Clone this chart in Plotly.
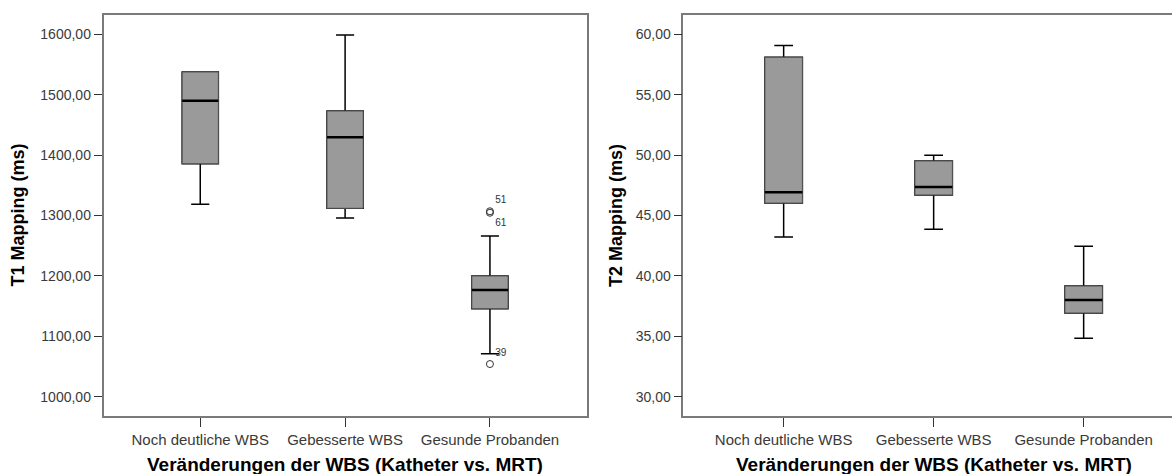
import plotly.graph_objects as go

# Gruppen (Veränderungen der WBS, Katheter vs. MRT)
categories = ["Noch deutliche WBS", "Gebesserte WBS", "Gesunde Probanden"]

# T1 Mapping (ms): Boxplot-Kennwerte je Gruppe
t1_lower = [1318.5, 1296.0, 1071.0]
t1_q1 = [1385.8, 1312.0, 1145.7]
t1_median = [1490.0, 1429.5, 1176.7]
t1_q3 = [1537.6, 1473.0, 1199.8]
t1_upper = [1537.6, 1599.0, 1266.0]

# T1 Ausreißer (Fallnummern)
t1_out_group = [2, 2, 2]
t1_out_value = [1307.0, 1304.5, 1054.0]
t1_out_label = ["51", "61", "39"]

# T2 Mapping (ms): Boxplot-Kennwerte je Gruppe
t2_lower = [43.22, 43.86, 34.83]
t2_q1 = [46.03, 46.70, 36.93]
t2_median = [46.92, 47.36, 38.00]
t2_q3 = [58.10, 49.51, 39.16]
t2_upper = [59.06, 49.98, 42.45]

BOX_W = 0.25
FILL = "#9a9a9a"
EDGE = "#555555"
FAMILY = "Liberation Sans, Arial, sans-serif"
YTICK_FONT = dict(family=FAMILY, size=14, color="#3a3a3a")
XTICK_FONT = dict(family=FAMILY, size=15, color="#3a3a3a")
YTITLE_FONT = dict(family=FAMILY, size=18, color="#000000")
XTITLE_FONT = dict(family=FAMILY, size=19, color="#000000")

fig = go.Figure()


def add_boxes(xref, yref, lower, q1, med, q3, upper):
    xs = list(range(len(categories)))
    # whiskers with caps
    fig.add_trace(go.Box(
        x=xs, q1=q1, median=med, q3=q3, lowerfence=lower, upperfence=upper,
        width=BOX_W, whiskerwidth=0.5, fillcolor=FILL,
        line=dict(color="#000000", width=1.5),
        xaxis=xref, yaxis=yref, showlegend=False, hoverinfo="skip",
    ))
    # box body with grey outline
    fig.add_trace(go.Box(
        x=xs, q1=q1, median=med, q3=q3, lowerfence=q1, upperfence=q3,
        width=BOX_W, whiskerwidth=0, fillcolor=FILL,
        line=dict(color=EDGE, width=1),
        xaxis=xref, yaxis=yref, showlegend=False, hoverinfo="skip",
    ))
    # thick median lines
    for i, m in enumerate(med):
        fig.add_trace(go.Scatter(
            x=[i - BOX_W / 2, i + BOX_W / 2], y=[m, m], mode="lines",
            line=dict(color="#000000", width=2.5),
            xaxis=xref, yaxis=yref, showlegend=False, hoverinfo="skip",
        ))


add_boxes("x", "y", t1_lower, t1_q1, t1_median, t1_q3, t1_upper)
add_boxes("x2", "y2", t2_lower, t2_q1, t2_median, t2_q3, t2_upper)

# outliers of the T1 panel
label_pos = ["top right", "bottom right", "top right"]
fig.add_trace(go.Scatter(
    x=t1_out_group, y=t1_out_value, mode="markers+text",
    marker=dict(symbol="circle-open", size=7, color="#333333", line=dict(width=1)),
    text=t1_out_label, textposition=label_pos,
    textfont=dict(family=FAMILY, size=10, color="#333333"),
    xaxis="x", yaxis="y", showlegend=False, hoverinfo="skip",
))

W, H = 1172, 474
ydom = [1 - 416 / H, 1 - 14.7 / H]

common_x = dict(
    tickmode="array", tickvals=list(range(len(categories))), ticktext=categories,
    showgrid=False, zeroline=False, showline=True, mirror=True,
    linecolor="#7a7a7a", linewidth=1.5, ticks="outside", ticklen=9,
    tickcolor="#333333", tickwidth=1, tickfont=XTICK_FONT,
)
common_y = dict(
    showgrid=False, zeroline=False, showline=True,
    linecolor="#7a7a7a", linewidth=1.5, ticks="outside", ticklen=8,
    tickcolor="#333333", tickwidth=1, tickfont=YTICK_FONT, tickformat=".2f",
)

fig.update_layout(
    width=W, height=H, margin=dict(l=0, r=0, t=0, b=0),
    paper_bgcolor="white", plot_bgcolor="white",
    separators=",.", boxmode="overlay",
    xaxis=dict(domain=[103.5 / W, 586.7 / W], range=[-0.668, 2.668], **common_x),
    yaxis=dict(domain=ydom, range=[968, 1632.5], dtick=100, mirror=True, **common_y),
    xaxis2=dict(domain=[683.3 / W, 1.0], range=[-0.669, 2.589], anchor="y2", **common_x),
    yaxis2=dict(domain=ydom, range=[28.4, 61.62], dtick=5, anchor="x2", mirror=False, **common_y),
)

# axis titles
for xpos, label in [(18, "T1 Mapping (ms)"), (616.7, "T2 Mapping (ms)")]:
    fig.add_annotation(text=f"<b>{label}</b>", x=xpos / W, y=1 - 215.4 / H,
                       xref="paper", yref="paper", xanchor="center", yanchor="middle",
                       textangle=-90, showarrow=False, font=YTITLE_FONT)
for xr in ["x", "x2"]:
    fig.add_annotation(text="<b>Veränderungen der WBS (Katheter vs. MRT)</b>",
                       x=1, y=1 - 464 / H, xref=xr, yref="paper",
                       xanchor="center", yanchor="middle",
                       showarrow=False, font=XTITLE_FONT)

fig.write_html("out.html")
